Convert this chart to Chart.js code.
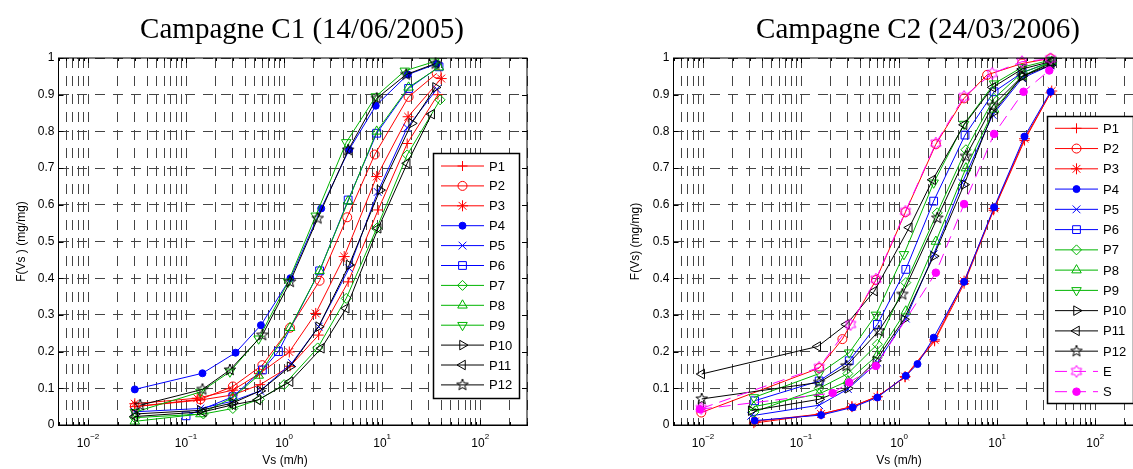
<!DOCTYPE html>
<html>
<head>
<meta charset="utf-8">
<script src="https://cdn.jsdelivr.net/npm/chart.js@4/dist/chart.umd.min.js"></script>
<style>
  html, body { margin: 0; padding: 0; background: #fff; overflow: hidden; width: 1133px; height: 469px; }
  canvas { position: absolute; top: 0; }
  #c1 { left: 0; }
  #c2 { left: 615px; }
</style>
</head>
<body>
<canvas id="c1" width="566" height="469"></canvas>
<canvas id="c2" width="566" height="469"></canvas>
<script>
// settling velocity Vs (m/h) and cumulated fraction F(Vs) per sampling point
const pointNames = ['P1', 'P2', 'P3', 'P4', 'P5', 'P6', 'P7', 'P8', 'P9', 'P10', 'P11', 'P12'];

// Campagne C1 (14/06/2005)
const c1P1vs  = [0.03, 0.14, 0.3, 0.57, 1.15, 2.25, 4.5, 9.1, 18, 37];
const c1P1f   = [0.05, 0.068, 0.082, 0.11, 0.16, 0.245, 0.39, 0.586, 0.767, 0.9];
const c1P2vs  = [0.03, 0.14, 0.3, 0.6, 1.15, 2.3, 4.4, 8.4, 18.6, 36];
const c1P2f   = [0.05, 0.07, 0.105, 0.163, 0.265, 0.393, 0.566, 0.737, 0.894, 0.958];
const c1P3vs  = [0.03, 0.13, 0.3, 0.56, 1.13, 2.1, 4.1, 8.8, 18.4, 40];
const c1P3f   = [0.058, 0.073, 0.095, 0.14, 0.199, 0.304, 0.459, 0.677, 0.84, 0.944];
const c1P4vs  = [0.03, 0.147, 0.32, 0.58, 1.16, 2.39, 4.6, 8.6, 18.3, 36];
const c1P4f   = [0.097, 0.141, 0.197, 0.272, 0.4, 0.59, 0.75, 0.87, 0.955, 0.984];
const c1P5vs  = [0.03, 0.14, 0.3, 0.57, 1.2, 2.25, 4.6, 9, 18, 36];
const c1P5f   = [0.036, 0.045, 0.065, 0.093, 0.169, 0.268, 0.427, 0.635, 0.81, 0.915];
const c1P6vs  = [0.1, 0.3, 0.6, 0.875, 2.3, 4.5, 8.8, 18.6, 38];
const c1P6f   = [0.025, 0.077, 0.15, 0.2, 0.42, 0.613, 0.795, 0.917, 0.976];
const c1P7vs  = [0.03, 0.15, 0.3, 0.56, 1.0, 2.2, 4.3, 8.8, 18, 39];
const c1P7f   = [0.02, 0.03, 0.045, 0.07, 0.11, 0.21, 0.345, 0.536, 0.736, 0.886];
const c1P8vs  = [0.03, 0.14, 0.3, 0.55, 1.15, 2.3, 4.5, 8.8, 18.6, 38];
const c1P8f   = [0.01, 0.03, 0.075, 0.135, 0.265, 0.42, 0.61, 0.8, 0.92, 0.975];
const c1P9vs  = [0.03, 0.14, 0.28, 0.55, 1.1, 2.1, 4.3, 8.6, 17, 34];
const c1P9f   = [0.035, 0.09, 0.145, 0.235, 0.39, 0.57, 0.77, 0.895, 0.965, 0.99];
const c1P10vs = [0.03, 0.14, 0.3, 0.57, 1.15, 2.25, 4.6, 9.5, 20, 35];
const c1P10f  = [0.03, 0.04, 0.06, 0.093, 0.159, 0.268, 0.436, 0.64, 0.822, 0.92];
const c1P11vs = [0.03, 0.15, 0.3, 0.54, 1.15, 2.4, 4.3, 9.1, 18, 32];
const c1P11f  = [0.023, 0.036, 0.055, 0.068, 0.118, 0.209, 0.318, 0.536, 0.713, 0.847];
const c1P12vs = [0.034, 0.147, 0.28, 0.6, 1.15, 2.2, 4.5, 8.8, 17.6, 35];
const c1P12f  = [0.054, 0.097, 0.15, 0.245, 0.39, 0.563, 0.749, 0.89, 0.955, 0.985];

// Campagne C2 (24/03/2006), plus inlet E and outlet S
const c2P1vs  = [0.033, 0.16, 0.33, 0.6, 1.15, 2.3, 4.6, 9.2, 19, 35];
const c2P1f   = [0.005, 0.03, 0.05, 0.078, 0.13, 0.228, 0.385, 0.585, 0.775, 0.905];
const c2P2vs  = [0.0096, 0.153, 0.264, 0.58, 1.16, 2.37, 4.6, 7.9, 17.9, 35];
const c2P2f   = [0.034, 0.155, 0.234, 0.395, 0.58, 0.765, 0.89, 0.954, 0.985, 0.999];
const c2P3vs  = [0.034, 0.16, 0.33, 0.6, 1.15, 2.3, 4.6, 9.3, 19, 36];
const c2P3f   = [0.01, 0.03, 0.05, 0.077, 0.132, 0.232, 0.392, 0.59, 0.78, 0.91];
const c2P4vs  = [0.0336, 0.16, 0.336, 0.6, 1.17, 1.54, 2.25, 4.6, 9.3, 19, 35];
const c2P4f   = [0.012, 0.027, 0.048, 0.075, 0.134, 0.166, 0.238, 0.39, 0.593, 0.786, 0.908];
const c2P5vs  = [0.031, 0.153, 0.3, 0.6, 1.17, 2.25, 4.4, 9, 18, 35];
const c2P5f   = [0.025, 0.054, 0.098, 0.17, 0.29, 0.465, 0.66, 0.845, 0.945, 0.98];
const c2P6vs  = [0.0336, 0.153, 0.31, 0.6, 1.17, 2.25, 4.7, 9.3, 18, 36];
const c2P6f   = [0.066, 0.12, 0.175, 0.274, 0.424, 0.61, 0.79, 0.908, 0.96, 0.99];
const c2P7vs  = [0.033, 0.153, 0.3, 0.6, 1.17, 2.45, 4.8, 9.3, 18, 36];
const c2P7f   = [0.035, 0.1, 0.14, 0.22, 0.388, 0.578, 0.75, 0.89, 0.96, 0.99];
const c2P8vs  = [0.033, 0.153, 0.3, 0.6, 1.17, 2.37, 4.8, 9.3, 18, 36];
const c2P8f   = [0.05, 0.085, 0.12, 0.19, 0.31, 0.5, 0.7, 0.86, 0.95, 0.99];
const c2P9vs  = [0.033, 0.153, 0.31, 0.58, 1.12, 2.25, 4.6, 9.3, 18, 36];
const c2P9f   = [0.075, 0.14, 0.197, 0.3, 0.465, 0.66, 0.82, 0.93, 0.975, 0.995];
const c2P10vs = [0.031, 0.153, 0.3, 0.58, 1.12, 2.25, 4.6, 9, 18, 35];
const c2P10f  = [0.039, 0.07, 0.1, 0.175, 0.288, 0.46, 0.655, 0.85, 0.95, 0.98];
const c2P11vs = [0.0097, 0.148, 0.29, 0.56, 1.27, 2.2, 4.6, 9, 18, 35];
const c2P11f  = [0.139, 0.214, 0.274, 0.365, 0.538, 0.668, 0.818, 0.92, 0.97, 0.99];
const c2P12vs = [0.0097, 0.153, 0.29, 0.62, 1.08, 2.45, 4.8, 9, 18, 35];
const c2P12f  = [0.071, 0.116, 0.161, 0.256, 0.356, 0.564, 0.732, 0.87, 0.95, 0.985];
const c2Evs   = [0.0096, 0.153, 0.32, 0.58, 1.16, 2.37, 4.6, 8.9, 17.9, 35];
const c2Ef    = [0.045, 0.157, 0.274, 0.397, 0.582, 0.768, 0.895, 0.958, 0.99, 0.998];
const c2Svs   = [0.0093, 0.21, 0.31, 0.58, 2.37, 4.6, 9.3, 18.6, 34];
const c2Sf    = [0.043, 0.087, 0.116, 0.161, 0.415, 0.602, 0.793, 0.908, 0.966];

// axis ticks
const xDecades = [-2, -1, 0, 1, 2];
const yTickStep = 0.1;

const c1Vs = [c1P1vs, c1P2vs, c1P3vs, c1P4vs, c1P5vs, c1P6vs, c1P7vs, c1P8vs, c1P9vs, c1P10vs, c1P11vs, c1P12vs];
const c1F  = [c1P1f, c1P2f, c1P3f, c1P4f, c1P5f, c1P6f, c1P7f, c1P8f, c1P9f, c1P10f, c1P11f, c1P12f];
const c2Vs = [c2P1vs, c2P2vs, c2P3vs, c2P4vs, c2P5vs, c2P6vs, c2P7vs, c2P8vs, c2P9vs, c2P10vs, c2P11vs, c2P12vs, c2Evs, c2Svs];
const c2F  = [c2P1f, c2P2f, c2P3f, c2P4f, c2P5f, c2P6f, c2P7f, c2P8f, c2P9f, c2P10f, c2P11f, c2P12f, c2Ef, c2Sf];

const SANS = '"Liberation Sans", Arial, Helvetica, sans-serif';
const SERIF = '"Liberation Serif", "Times New Roman", serif';

// outlined n-point star used as a marker (pentagram / hexagram)
function starMarker(color, n, rOut, rIn) {
  const c = document.createElement('canvas');
  c.width = c.height = Math.ceil(2 * rOut + 4);
  const g = c.getContext('2d');
  const cx = c.width / 2, cy = c.height / 2;
  g.strokeStyle = color;
  g.lineWidth = 1;
  g.beginPath();
  for (let k = 0; k < 2 * n; k++) {
    const r = k % 2 ? rIn : rOut;
    const a = -Math.PI / 2 + k * Math.PI / n;
    g.lineTo(cx + r * Math.cos(a), cy + r * Math.sin(a));
  }
  g.closePath();
  g.stroke();
  return c;
}

const red = '#ff0000', blue = '#0000ff', green = '#00b400', black = '#000000', magenta = '#ff00ff';
const none = 'rgba(0,0,0,0)';
const looks = [
  { color: red,   style: 'cross',    r: 5 },
  { color: red,   style: 'circle',   r: 4.5 },
  { color: red,   style: 'star',     r: 5.5 },
  { color: blue,  style: 'circle',   r: 3.5, fill: blue },
  { color: blue,  style: 'crossRot', r: 5.5 },
  { color: blue,  style: 'rect',     r: 5.5 },
  { color: green, style: 'rectRot',  r: 5 },
  { color: green, style: 'triangle', r: 5.5 },
  { color: green, style: 'triangle', r: 5.5, rot: 180 },
  { color: black, style: 'triangle', r: 5.5, rot: 90 },
  { color: black, style: 'triangle', r: 5.5, rot: 270 },
  { color: black, style: starMarker(black, 5, 6, 2.5), r: 6 },
  { color: magenta, style: starMarker(magenta, 6, 6, 3.5), r: 6, dash: [12, 7] },
  { color: magenta, style: 'circle', r: 3.8, fill: magenta, dash: [12, 7] }
];

function makeSets(vs, f, labels) {
  return labels.map((label, i) => {
    const lk = looks[i];
    return {
      label,
      data: vs[i].map((x, j) => ({ x, y: f[i][j] })),
      showLine: true,
      borderColor: lk.color,
      backgroundColor: none,
      borderWidth: 1,
      borderDash: lk.dash || [],
      pointStyle: lk.style,
      pointRadius: lk.r,
      pointRotation: lk.rot || 0,
      pointBorderColor: lk.color,
      pointBackgroundColor: lk.fill || none,
      pointBorderWidth: 1,
      order: -i,
      clip: false
    };
  });
}

// box, inward ticks, power-of-ten labels, titles and legend
const decor = {
  id: 'decor',
  afterDraw(chart, args, o) {
    const { ctx, chartArea: a, scales: { x, y } } = chart;
    ctx.save();
    ctx.strokeStyle = '#000';
    ctx.lineWidth = 1;
    ctx.setLineDash([]);
    ctx.strokeRect(a.left, a.top, a.width, a.height);

    ctx.beginPath();
    x.ticks.forEach(t => {
      const px = Math.round(x.getPixelForValue(t.value)) + 0.5;
      const len = xDecades.some(p => Math.abs(Math.log10(t.value) - p) < 1e-9) ? 5 : 3;
      ctx.moveTo(px, a.bottom); ctx.lineTo(px, a.bottom - len);
      ctx.moveTo(px, a.top); ctx.lineTo(px, a.top + len);
    });
    y.ticks.forEach(t => {
      const py = Math.round(y.getPixelForValue(t.value)) + 0.5;
      ctx.moveTo(a.left, py); ctx.lineTo(a.left + 5, py);
      ctx.moveTo(a.right, py); ctx.lineTo(a.right - 5, py);
    });
    ctx.stroke();

    ctx.fillStyle = '#000';
    ctx.textBaseline = 'alphabetic';
    xDecades.forEach(p => {
      const px = x.getPixelForValue(Math.pow(10, p));
      const ex = String(p).replace('-', '\u2212');
      ctx.font = '12px ' + SANS;
      const w1 = ctx.measureText('10').width;
      ctx.font = '8px ' + SANS;
      const w2 = ctx.measureText(ex).width;
      const x0 = px - (w1 + w2) / 2;
      ctx.textAlign = 'left';
      ctx.font = '12px ' + SANS;
      ctx.fillText('10', x0, a.bottom + 22);
      ctx.font = '8px ' + SANS;
      ctx.fillText(ex, x0 + w1, a.bottom + 14);
    });

    ctx.textAlign = 'center';
    ctx.textBaseline = 'middle';
    ctx.font = '29px ' + SERIF;
    ctx.fillText(o.title, o.titleX, 30);
    ctx.font = '12px ' + SANS;
    ctx.fillText('Vs (m/h)', o.xLabelX, 461);
    ctx.save();
    ctx.translate(o.yLabelX, (a.top + a.bottom) / 2);
    ctx.rotate(-Math.PI / 2);
    ctx.fillText(o.yLabel, 0, 0);
    ctx.restore();

    // legend
    const L = o.legend;
    ctx.fillStyle = '#fff';
    ctx.fillRect(L.x, L.y, L.w, L.h);
    ctx.strokeStyle = '#000';
    ctx.lineWidth = 1.5;
    ctx.strokeRect(L.x + 0.5, L.y + 0.5, L.w, L.h);
    chart.data.datasets.forEach((ds, i) => {
      const cy = L.row0 + i * L.rowH;
      const x1 = L.x + 8, x2 = L.x + 51, mx = (x1 + x2) / 2;
      ctx.strokeStyle = ds.borderColor;
      ctx.lineWidth = 1;
      ctx.setLineDash(ds.borderDash);
      ctx.beginPath();
      ctx.moveTo(x1, cy); ctx.lineTo(x2, cy);
      ctx.stroke();
      ctx.setLineDash([]);
      ctx.fillStyle = ds.pointBackgroundColor;
      Chart.helpers.drawPoint(ctx, {
        pointStyle: ds.pointStyle, rotation: ds.pointRotation,
        radius: ds.pointRadius, borderWidth: 1
      }, mx, cy);
      ctx.fillStyle = '#000';
      ctx.textAlign = 'left';
      ctx.textBaseline = 'middle';
      ctx.font = '13px ' + SANS;
      ctx.fillText(ds.label, L.x + 56, cy + 1);
    });
    ctx.restore();
  }
};

const xGrid = [];
for (let p = -3; p <= 2; p++) {
  for (let m = 1; m <= 9; m++) {
    const v = +(m * Math.pow(10, p)).toPrecision(3);
    if (v >= 0.005 && v <= 300) xGrid.push(v);
  }
}

const gridLine = { color: '#444444', lineWidth: 1, drawTicks: false };

function build(id, sets, opts) {
  return new Chart(document.getElementById(id), {
    type: 'scatter',
    data: { datasets: sets },
    options: {
      responsive: false,
      animation: false,
      devicePixelRatio: 1,
      layout: { padding: { top: 58, right: 39, left: 0, bottom: 0 } },
      plugins: { legend: { display: false }, tooltip: { enabled: false }, decor: opts },
      scales: {
        x: {
          type: 'logarithmic',
          min: 0.005,
          max: 300,
          afterBuildTicks: s => { s.ticks = xGrid.map(v => ({ value: v })); },
          afterFit: s => { s.height = 44; },
          ticks: { display: false },
          grid: gridLine,
          border: { color: '#000', dash: [10, 8] }
        },
        y: {
          min: 0,
          max: 1,
          afterFit: s => { s.width = 58.5; },
          ticks: {
            stepSize: yTickStep,
            padding: 4,
            color: '#000',
            font: { family: SANS, size: 12 },
            callback: v => String(Math.round(v * 10) / 10)
          },
          grid: gridLine,
          border: { color: '#000', dash: [10, 8] }
        }
      }
    },
    plugins: [decor]
  });
}

build('c1', makeSets(c1Vs, c1F, pointNames), {
  title: 'Campagne C1 (14/06/2005)', titleX: 302, xLabelX: 285,
  yLabel: 'F(Vs ) (mg/mg)', yLabelX: 22,
  legend: { x: 433, y: 153, w: 86, h: 245, row0: 166, rowH: 19.9 }
});
build('c2', makeSets(c2Vs, c2F, pointNames.concat(['E', 'S'])), {
  title: 'Campagne C2 (24/03/2006)', titleX: 303, xLabelX: 284,
  yLabel: 'F(Vs) (mg/mg)', yLabelX: 21,
  legend: { x: 432, y: 116, w: 86, h: 287, row0: 128.3, rowH: 20.26 }
});
</script>
</body>
</html>
